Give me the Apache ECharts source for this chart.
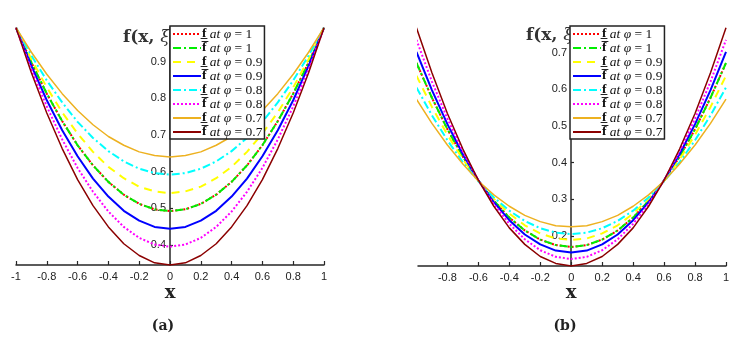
<!DOCTYPE html>
<html>
<head>
<meta charset="utf-8">
<script src="https://cdn.jsdelivr.net/npm/echarts@6/dist/echarts.min.js"></script>
<style>
  html, body { margin: 0; padding: 0; background: #fff; }
  #chart { width: 737px; height: 340px; }
</style>
</head>
<body>
<div id="chart"></div>
<script>
// x grid shared by both panels
const xs = [-1, -0.9, -0.8, -0.7, -0.6, -0.5, -0.4, -0.3, -0.2, -0.1, 0,
  0.1, 0.2, 0.3, 0.4, 0.5, 0.6, 0.7, 0.8, 0.9, 1]

// panel (a) values
const aLow1 = [0.993, 0.898, 0.813, 0.738, 0.672, 0.617, 0.572, 0.537, 0.512, 0.497, 0.492,
  0.497, 0.512, 0.537, 0.572, 0.617, 0.672, 0.738, 0.813, 0.898, 0.993]
const aUp1 = aLow1.slice()
const aLow09 = [0.993, 0.907, 0.830, 0.762, 0.704, 0.654, 0.613, 0.582, 0.559, 0.546, 0.541,
  0.546, 0.559, 0.582, 0.613, 0.654, 0.704, 0.762, 0.830, 0.907, 0.993]
const aUp09 = [0.993, 0.889, 0.795, 0.713, 0.642, 0.581, 0.532, 0.493, 0.466, 0.449, 0.444,
  0.449, 0.466, 0.493, 0.532, 0.581, 0.642, 0.713, 0.795, 0.889, 0.993]
const aLow08 = [0.993, 0.917, 0.849, 0.789, 0.736, 0.692, 0.656, 0.628, 0.608, 0.596, 0.592,
  0.596, 0.608, 0.628, 0.656, 0.692, 0.736, 0.789, 0.849, 0.917, 0.993]
const aUp08 = [0.993, 0.879, 0.778, 0.688, 0.610, 0.545, 0.491, 0.449, 0.419, 0.401, 0.395,
  0.401, 0.419, 0.449, 0.491, 0.545, 0.610, 0.688, 0.778, 0.879, 0.993]
const aLow07 = [0.993, 0.926, 0.866, 0.813, 0.767, 0.728, 0.696, 0.672, 0.654, 0.644, 0.640,
  0.644, 0.654, 0.672, 0.696, 0.728, 0.767, 0.813, 0.866, 0.926, 0.993]
const aUp07 = [0.993, 0.870, 0.760, 0.663, 0.578, 0.507, 0.449, 0.403, 0.371, 0.351, 0.345,
  0.351, 0.371, 0.403, 0.449, 0.507, 0.578, 0.663, 0.760, 0.870, 0.993]

// panel (b) values
const bLow1 = [0.672, 0.577, 0.491, 0.416, 0.351, 0.296, 0.250, 0.215, 0.190, 0.175, 0.170,
  0.175, 0.190, 0.215, 0.250, 0.296, 0.351, 0.416, 0.491, 0.577, 0.672]
const bUp1 = bLow1.slice()
const bLow09 = [0.637, 0.552, 0.476, 0.409, 0.350, 0.301, 0.261, 0.229, 0.207, 0.193, 0.189,
  0.193, 0.207, 0.229, 0.261, 0.301, 0.350, 0.409, 0.476, 0.552, 0.637]
const bUp09 = [0.702, 0.598, 0.505, 0.423, 0.352, 0.292, 0.243, 0.204, 0.177, 0.160, 0.155,
  0.160, 0.177, 0.204, 0.243, 0.292, 0.352, 0.423, 0.505, 0.598, 0.702]
const bLow08 = [0.605, 0.529, 0.461, 0.401, 0.349, 0.305, 0.269, 0.241, 0.221, 0.209, 0.205,
  0.209, 0.221, 0.241, 0.269, 0.305, 0.349, 0.401, 0.461, 0.529, 0.605]
const bUp08 = [0.735, 0.621, 0.520, 0.430, 0.352, 0.287, 0.233, 0.191, 0.161, 0.143, 0.137,
  0.143, 0.161, 0.191, 0.233, 0.287, 0.352, 0.430, 0.520, 0.621, 0.735]
const bLow07 = [0.573, 0.507, 0.448, 0.396, 0.350, 0.312, 0.281, 0.256, 0.239, 0.228, 0.225,
  0.228, 0.239, 0.256, 0.281, 0.312, 0.350, 0.396, 0.448, 0.507, 0.573]
const bUp07 = [0.768, 0.645, 0.534, 0.437, 0.352, 0.281, 0.222, 0.177, 0.144, 0.125, 0.118,
  0.125, 0.144, 0.177, 0.222, 0.281, 0.352, 0.437, 0.534, 0.645, 0.768]

const names = ['lo1', 'up1', 'lo09', 'up09', 'lo08', 'up08', 'lo07', 'up07']
const legendText = {
  lo1: '{b|f\u0332} {i|at \u03c6} = 1',
  up1: '{b|f\u0305} {i|at \u03c6} = 1',
  lo09: '{b|f\u0332} {i|at \u03c6} = 0.9',
  up09: '{b|f\u0305} {i|at \u03c6} = 0.9',
  lo08: '{b|f\u0332} {i|at \u03c6} = 0.8',
  up08: '{b|f\u0305} {i|at \u03c6} = 0.8',
  lo07: '{b|f\u0332} {i|at \u03c6} = 0.7',
  up07: '{b|f\u0305} {i|at \u03c6} = 0.7'
}
const styles = [
  { color: '#ff0000', type: 'dotted', width: 2 },
  { color: '#00ee00', type: [8, 3, 2, 3], width: 2 },
  { color: '#ffff00', type: [8, 6], width: 2 },
  { color: '#0000ff', type: 'solid', width: 2 },
  { color: '#00ffff', type: [8, 3, 2, 3], width: 2 },
  { color: '#ff00ff', type: 'dotted', width: 2 },
  { color: '#edb120', type: 'solid', width: 1.5 },
  { color: '#8b0000', type: 'solid', width: 1.5 }
]
const aSets = [aLow1, aUp1, aLow09, aUp09, aLow08, aUp08, aLow07, aUp07]
const bSets = [bLow1, bUp1, bLow09, bUp09, bLow08, bUp08, bLow07, bUp07]

const axisCol = '#262626'
const serif = 'DejaVu Serif'
const lserif = 'Liberation Serif'

function xAxisOf(idx, min, ticks) {
  return {
    type: 'value', gridIndex: idx, min: min, max: 1,
    axisLine: { lineStyle: { color: axisCol, width: 1.5 } },
    axisTick: { show: true, inside: true, length: 4, customValues: ticks, lineStyle: { color: axisCol, width: 1.2 } },
    axisLabel: { customValues: ticks, color: '#222', fontSize: 11, fontFamily: 'Liberation Sans', margin: 6 },
    splitLine: { show: false }
  }
}
function yAxisOf(idx, min, max, ticks, off) {
  return {
    type: 'value', gridIndex: idx, min: min, max: max, position: 'left', offset: off,
    axisLine: { onZero: false, lineStyle: { color: axisCol, width: 1.5 } },
    axisTick: { show: true, inside: true, length: 3, customValues: ticks, lineStyle: { color: axisCol, width: 1.2 } },
    axisLabel: { customValues: ticks, color: '#222', fontSize: 11, fontFamily: 'Liberation Sans', margin: 4 },
    splitLine: { show: false }
  }
}
function legendOf(left) {
  return {
    left: left, top: 26, orient: 'vertical', z: 10,
    data: names, itemWidth: 28, itemHeight: 12.5, itemGap: 0,
    padding: [1, 2, 0, 2],
    backgroundColor: '#fff', borderColor: '#222', borderWidth: 1.5,
    selectedMode: false,
    itemStyle: { opacity: 0 },
    formatter: n => legendText[n],
    textStyle: {
      fontFamily: lserif, fontSize: 13.5, lineHeight: 12.5, color: '#111', padding: [0, 0, 0, -4],
      rich: {
        b: { fontFamily: lserif, fontWeight: 'bold', fontSize: 13.5, lineHeight: 12.5, color: '#111' },
        i: { fontFamily: lserif, fontStyle: 'italic', fontSize: 13.5, lineHeight: 12.5, color: '#111' }
      }
    }
  }
}

const series = []
names.forEach((n, k) => {
  series.push({
    name: n, type: 'line', xAxisIndex: 0, yAxisIndex: 0, symbol: 'none',
    lineStyle: styles[k], itemStyle: { color: styles[k].color },
    data: xs.map((x, i) => [x, aSets[k][i]])
  })
})
names.forEach((n, k) => {
  series.push({
    name: n, type: 'line', xAxisIndex: 1, yAxisIndex: 1, symbol: 'none', clip: true,
    lineStyle: styles[k], itemStyle: { color: styles[k].color },
    data: xs.map((x, i) => [x, bSets[k][i]])
  })
})

function txt(x, y, text, size, align) {
  return {
    type: 'text', x: x, y: y, z: 1,
    style: { text: text, fontFamily: serif, fontWeight: 'bold', fontSize: size, fill: '#222',
      textAlign: align || 'center', textVerticalAlign: 'middle' }
  }
}
function yName(x, y) {
  return {
    type: 'text', x: x, y: y, z: 1,
    style: {
      text: '{b|f(x, }{i|\u03be}{b|)}', textAlign: 'left', textVerticalAlign: 'middle',
      rich: {
        b: { fontFamily: serif, fontWeight: 'bold', fontSize: 17, fill: '#333' },
        i: { fontFamily: serif, fontStyle: 'italic', fontSize: 17, fill: '#333' }
      }
    }
  }
}

const chart = echarts.init(document.getElementById('chart'))
chart.setOption({
  animation: false,
  backgroundColor: '#fff',
  grid: [
    { left: 16, top: 27, width: 308, height: 238, containLabel: false, outerBoundsMode: 'none' },
    { left: 418, top: 27, width: 308, height: 239, containLabel: false, outerBoundsMode: 'none' }
  ],
  xAxis: [
    xAxisOf(0, -1, [-1, -0.8, -0.6, -0.4, -0.2, 0, 0.2, 0.4, 0.6, 0.8, 1]),
    xAxisOf(1, -0.99, [-0.8, -0.6, -0.4, -0.2, 0, 0.2, 0.4, 0.6, 0.8, 1])
  ],
  yAxis: [
    yAxisOf(0, 0.345, 0.995, [0.4, 0.5, 0.6, 0.7, 0.8, 0.9], -154),
    yAxisOf(1, 0.118, 0.77, [0.2, 0.3, 0.4, 0.5, 0.6, 0.7], -153)
  ],
  legend: [legendOf(170), legendOf(570)],
  series: series,
  graphic: [
    yName(123, 38), yName(526, 36),
    txt(170, 293, 'x', 18), txt(571, 293, 'x', 18),
    txt(163, 326, '(a)', 14), txt(565, 326, '(b)', 14)
  ]
})
</script>
</body>
</html>
